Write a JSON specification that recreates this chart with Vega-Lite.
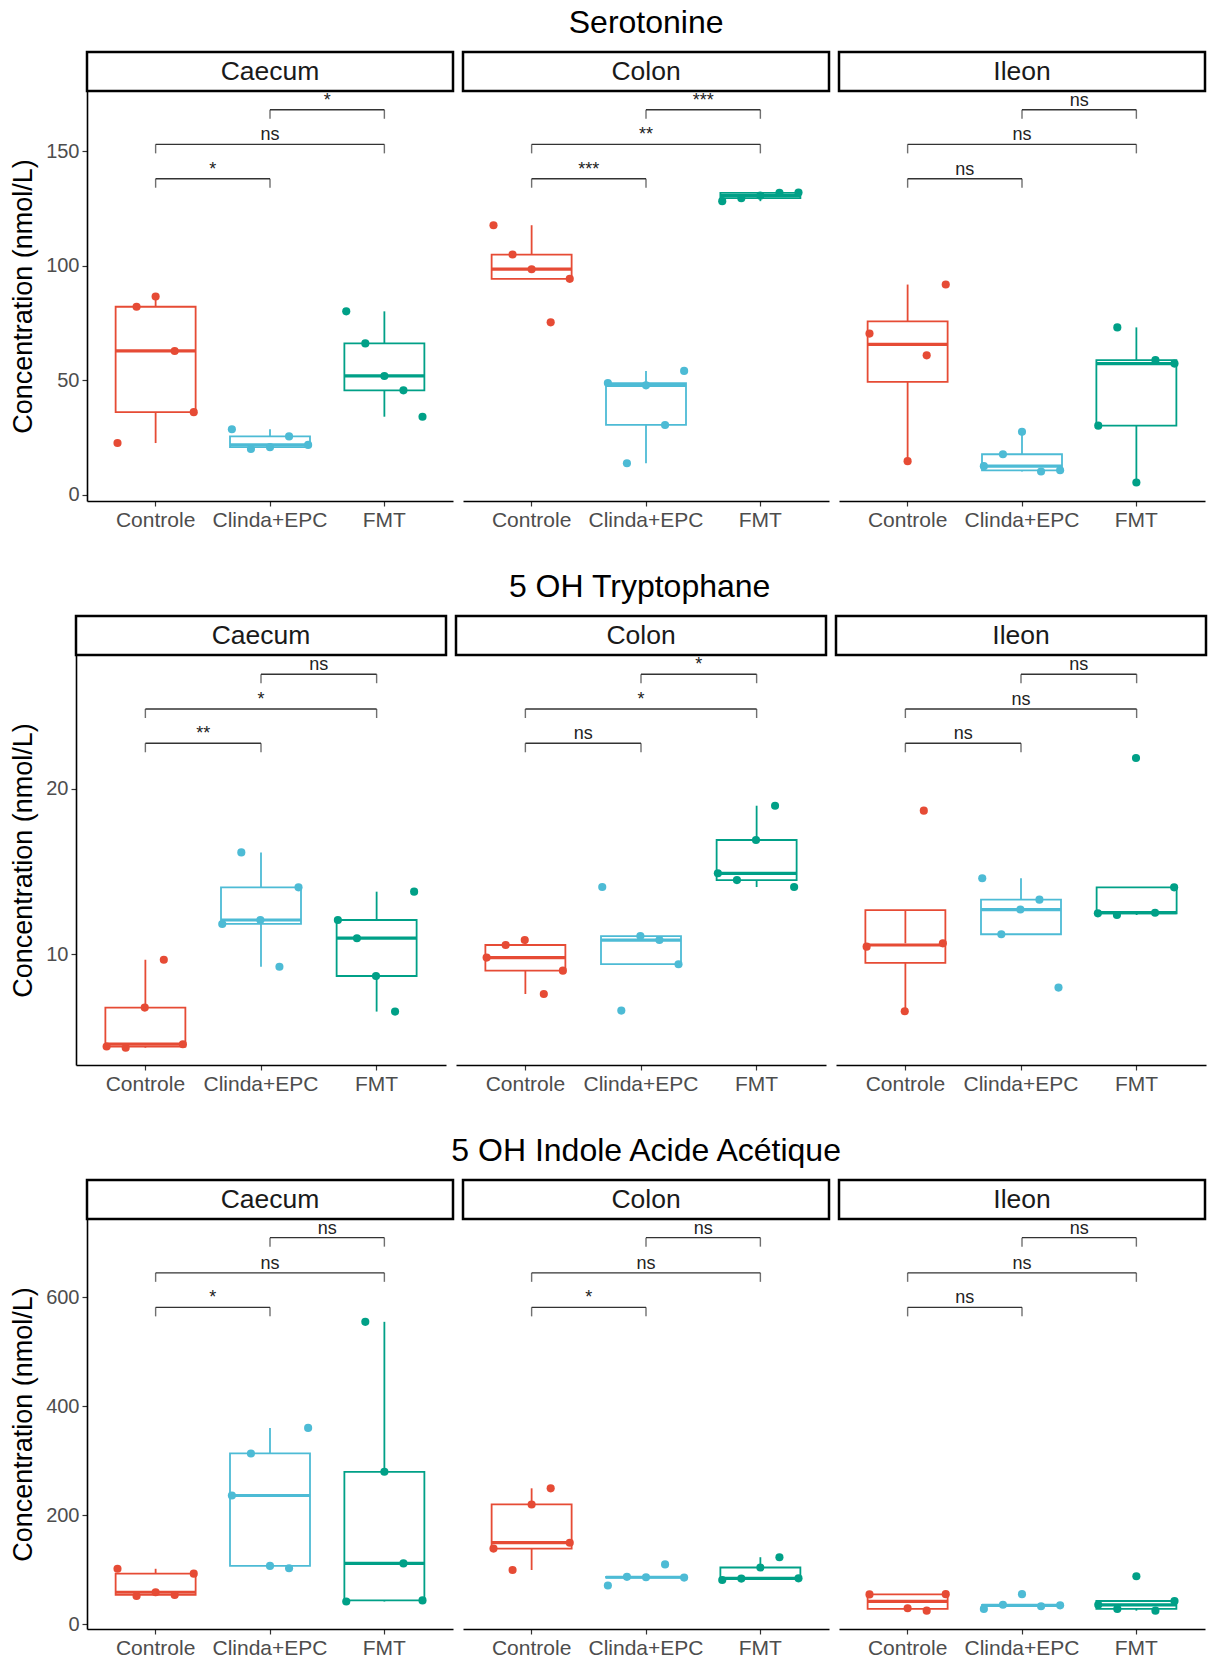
{
"$schema": "https://vega.github.io/schema/vega-lite/v6.json",
"padding": {"left": 2, "top": 6, "right": 2, "bottom": 2},
"config": {
  "font": "Liberation Sans",
  "view": {"stroke": null},
  "axis": {"labelFont": "Liberation Sans", "labelFontSize": 20, "labelColor": "#4d4d4d", "titleFont": "Liberation Sans", "titleFontSize": 27, "titleFontWeight": "normal", "titleColor": "#000", "domainColor": "#000", "domainWidth": 1.6, "tickColor": "#333", "tickWidth": 1.2, "tickSize": 5, "labelPadding": 3, "titlePadding": 8, "grid": false},
  "axisX": {"labelFontSize": 21},
  "title": {"font": "Liberation Sans", "fontSize": 32, "fontWeight": "normal", "color": "#000", "anchor": "middle", "offset": 11}
},
"datasets": {
  "regions": [{"region": "Caecum"}, {"region": "Colon"}, {"region": "Ileon"}],
  "pts": [
    {"m":"SER","region":"Caecum","group":"Controle","rep":1,"v":22.6},
    {"m":"SER","region":"Caecum","group":"Controle","rep":2,"v":82.1},
    {"m":"SER","region":"Caecum","group":"Controle","rep":3,"v":86.6},
    {"m":"SER","region":"Caecum","group":"Controle","rep":4,"v":62.8},
    {"m":"SER","region":"Caecum","group":"Controle","rep":5,"v":36.1},
    {"m":"SER","region":"Caecum","group":"Clinda+EPC","rep":1,"v":28.6},
    {"m":"SER","region":"Caecum","group":"Clinda+EPC","rep":2,"v":20.0},
    {"m":"SER","region":"Caecum","group":"Clinda+EPC","rep":3,"v":20.8},
    {"m":"SER","region":"Caecum","group":"Clinda+EPC","rep":4,"v":25.5},
    {"m":"SER","region":"Caecum","group":"Clinda+EPC","rep":5,"v":21.8},
    {"m":"SER","region":"Caecum","group":"FMT","rep":1,"v":80.1},
    {"m":"SER","region":"Caecum","group":"FMT","rep":2,"v":66.1},
    {"m":"SER","region":"Caecum","group":"FMT","rep":3,"v":51.9},
    {"m":"SER","region":"Caecum","group":"FMT","rep":4,"v":45.6},
    {"m":"SER","region":"Caecum","group":"FMT","rep":5,"v":34.1},
    {"m":"SER","region":"Colon","group":"Controle","rep":1,"v":117.7},
    {"m":"SER","region":"Colon","group":"Controle","rep":2,"v":104.9},
    {"m":"SER","region":"Colon","group":"Controle","rep":3,"v":98.5},
    {"m":"SER","region":"Colon","group":"Controle","rep":4,"v":75.3},
    {"m":"SER","region":"Colon","group":"Controle","rep":5,"v":94.3},
    {"m":"SER","region":"Colon","group":"Clinda+EPC","rep":1,"v":48.8},
    {"m":"SER","region":"Colon","group":"Clinda+EPC","rep":2,"v":13.8},
    {"m":"SER","region":"Colon","group":"Clinda+EPC","rep":3,"v":47.8},
    {"m":"SER","region":"Colon","group":"Clinda+EPC","rep":4,"v":30.5},
    {"m":"SER","region":"Colon","group":"Clinda+EPC","rep":5,"v":54.1},
    {"m":"SER","region":"Colon","group":"FMT","rep":1,"v":128.2},
    {"m":"SER","region":"Colon","group":"FMT","rep":2,"v":129.5},
    {"m":"SER","region":"Colon","group":"FMT","rep":3,"v":130.6},
    {"m":"SER","region":"Colon","group":"FMT","rep":4,"v":131.8},
    {"m":"SER","region":"Colon","group":"FMT","rep":5,"v":132.0},
    {"m":"SER","region":"Ileon","group":"Controle","rep":1,"v":70.4},
    {"m":"SER","region":"Ileon","group":"Controle","rep":3,"v":14.7},
    {"m":"SER","region":"Ileon","group":"Controle","rep":4,"v":60.9},
    {"m":"SER","region":"Ileon","group":"Controle","rep":5,"v":91.8},
    {"m":"SER","region":"Ileon","group":"Clinda+EPC","rep":1,"v":12.5},
    {"m":"SER","region":"Ileon","group":"Clinda+EPC","rep":2,"v":17.7},
    {"m":"SER","region":"Ileon","group":"Clinda+EPC","rep":3,"v":27.5},
    {"m":"SER","region":"Ileon","group":"Clinda+EPC","rep":4,"v":10.2},
    {"m":"SER","region":"Ileon","group":"Clinda+EPC","rep":5,"v":10.7},
    {"m":"SER","region":"Ileon","group":"FMT","rep":1,"v":30.2},
    {"m":"SER","region":"Ileon","group":"FMT","rep":2,"v":73.1},
    {"m":"SER","region":"Ileon","group":"FMT","rep":3,"v":5.4},
    {"m":"SER","region":"Ileon","group":"FMT","rep":4,"v":58.8},
    {"m":"SER","region":"Ileon","group":"FMT","rep":5,"v":57.3},
    {"m":"TRP","region":"Caecum","group":"Controle","rep":1,"v":4.43},
    {"m":"TRP","region":"Caecum","group":"Controle","rep":2,"v":4.36},
    {"m":"TRP","region":"Caecum","group":"Controle","rep":3,"v":6.78},
    {"m":"TRP","region":"Caecum","group":"Controle","rep":4,"v":9.67},
    {"m":"TRP","region":"Caecum","group":"Controle","rep":5,"v":4.57},
    {"m":"TRP","region":"Caecum","group":"Clinda+EPC","rep":1,"v":11.83},
    {"m":"TRP","region":"Caecum","group":"Clinda+EPC","rep":2,"v":16.15},
    {"m":"TRP","region":"Caecum","group":"Clinda+EPC","rep":3,"v":12.07},
    {"m":"TRP","region":"Caecum","group":"Clinda+EPC","rep":4,"v":9.25},
    {"m":"TRP","region":"Caecum","group":"Clinda+EPC","rep":5,"v":14.04},
    {"m":"TRP","region":"Caecum","group":"FMT","rep":1,"v":12.07},
    {"m":"TRP","region":"Caecum","group":"FMT","rep":2,"v":10.97},
    {"m":"TRP","region":"Caecum","group":"FMT","rep":3,"v":8.69},
    {"m":"TRP","region":"Caecum","group":"FMT","rep":4,"v":6.54},
    {"m":"TRP","region":"Caecum","group":"FMT","rep":5,"v":13.78},
    {"m":"TRP","region":"Colon","group":"Controle","rep":1,"v":9.80},
    {"m":"TRP","region":"Colon","group":"Controle","rep":2,"v":10.56},
    {"m":"TRP","region":"Colon","group":"Controle","rep":3,"v":10.86},
    {"m":"TRP","region":"Colon","group":"Controle","rep":4,"v":7.60},
    {"m":"TRP","region":"Colon","group":"Controle","rep":5,"v":9.01},
    {"m":"TRP","region":"Colon","group":"Clinda+EPC","rep":1,"v":14.06},
    {"m":"TRP","region":"Colon","group":"Clinda+EPC","rep":2,"v":6.60},
    {"m":"TRP","region":"Colon","group":"Clinda+EPC","rep":3,"v":11.10},
    {"m":"TRP","region":"Colon","group":"Clinda+EPC","rep":4,"v":10.86},
    {"m":"TRP","region":"Colon","group":"Clinda+EPC","rep":5,"v":9.40},
    {"m":"TRP","region":"Colon","group":"FMT","rep":1,"v":14.89},
    {"m":"TRP","region":"Colon","group":"FMT","rep":2,"v":14.48},
    {"m":"TRP","region":"Colon","group":"FMT","rep":3,"v":16.9},
    {"m":"TRP","region":"Colon","group":"FMT","rep":4,"v":18.97},
    {"m":"TRP","region":"Colon","group":"FMT","rep":5,"v":14.06},
    {"m":"TRP","region":"Ileon","group":"Controle","rep":1,"v":10.46},
    {"m":"TRP","region":"Ileon","group":"Controle","rep":3,"v":6.56},
    {"m":"TRP","region":"Ileon","group":"Controle","rep":4,"v":18.67},
    {"m":"TRP","region":"Ileon","group":"Controle","rep":5,"v":10.66},
    {"m":"TRP","region":"Ileon","group":"Clinda+EPC","rep":1,"v":14.59},
    {"m":"TRP","region":"Ileon","group":"Clinda+EPC","rep":2,"v":11.21},
    {"m":"TRP","region":"Ileon","group":"Clinda+EPC","rep":3,"v":12.70},
    {"m":"TRP","region":"Ileon","group":"Clinda+EPC","rep":4,"v":13.30},
    {"m":"TRP","region":"Ileon","group":"Clinda+EPC","rep":5,"v":7.99},
    {"m":"TRP","region":"Ileon","group":"FMT","rep":1,"v":12.47},
    {"m":"TRP","region":"Ileon","group":"FMT","rep":2,"v":12.37},
    {"m":"TRP","region":"Ileon","group":"FMT","rep":3,"v":21.85},
    {"m":"TRP","region":"Ileon","group":"FMT","rep":4,"v":12.51},
    {"m":"TRP","region":"Ileon","group":"FMT","rep":5,"v":14.04},
    {"m":"IAA","region":"Caecum","group":"Controle","rep":1,"v":102},
    {"m":"IAA","region":"Caecum","group":"Controle","rep":2,"v":52},
    {"m":"IAA","region":"Caecum","group":"Controle","rep":3,"v":59},
    {"m":"IAA","region":"Caecum","group":"Controle","rep":4,"v":54},
    {"m":"IAA","region":"Caecum","group":"Controle","rep":5,"v":93},
    {"m":"IAA","region":"Caecum","group":"Clinda+EPC","rep":1,"v":236.3},
    {"m":"IAA","region":"Caecum","group":"Clinda+EPC","rep":2,"v":313.4},
    {"m":"IAA","region":"Caecum","group":"Clinda+EPC","rep":3,"v":107.3},
    {"m":"IAA","region":"Caecum","group":"Clinda+EPC","rep":4,"v":102.9},
    {"m":"IAA","region":"Caecum","group":"Clinda+EPC","rep":5,"v":360.2},
    {"m":"IAA","region":"Caecum","group":"FMT","rep":1,"v":42},
    {"m":"IAA","region":"Caecum","group":"FMT","rep":2,"v":554.7},
    {"m":"IAA","region":"Caecum","group":"FMT","rep":3,"v":279.8},
    {"m":"IAA","region":"Caecum","group":"FMT","rep":4,"v":111.8},
    {"m":"IAA","region":"Caecum","group":"FMT","rep":5,"v":44},
    {"m":"IAA","region":"Colon","group":"Controle","rep":1,"v":139},
    {"m":"IAA","region":"Colon","group":"Controle","rep":2,"v":99.7},
    {"m":"IAA","region":"Colon","group":"Controle","rep":3,"v":219.9},
    {"m":"IAA","region":"Colon","group":"Controle","rep":4,"v":249.5},
    {"m":"IAA","region":"Colon","group":"Controle","rep":5,"v":149.8},
    {"m":"IAA","region":"Colon","group":"Clinda+EPC","rep":1,"v":71.3},
    {"m":"IAA","region":"Colon","group":"Clinda+EPC","rep":2,"v":87.2},
    {"m":"IAA","region":"Colon","group":"Clinda+EPC","rep":3,"v":86.5},
    {"m":"IAA","region":"Colon","group":"Clinda+EPC","rep":4,"v":110},
    {"m":"IAA","region":"Colon","group":"Clinda+EPC","rep":5,"v":85.8},
    {"m":"IAA","region":"Colon","group":"FMT","rep":1,"v":81.5},
    {"m":"IAA","region":"Colon","group":"FMT","rep":2,"v":84},
    {"m":"IAA","region":"Colon","group":"FMT","rep":3,"v":104.3},
    {"m":"IAA","region":"Colon","group":"FMT","rep":4,"v":123.2},
    {"m":"IAA","region":"Colon","group":"FMT","rep":5,"v":84.5},
    {"m":"IAA","region":"Ileon","group":"Controle","rep":1,"v":55},
    {"m":"IAA","region":"Ileon","group":"Controle","rep":3,"v":29.6},
    {"m":"IAA","region":"Ileon","group":"Controle","rep":4,"v":25.2},
    {"m":"IAA","region":"Ileon","group":"Controle","rep":5,"v":55.5},
    {"m":"IAA","region":"Ileon","group":"Clinda+EPC","rep":1,"v":28.4},
    {"m":"IAA","region":"Ileon","group":"Clinda+EPC","rep":2,"v":36},
    {"m":"IAA","region":"Ileon","group":"Clinda+EPC","rep":3,"v":55.5},
    {"m":"IAA","region":"Ileon","group":"Clinda+EPC","rep":4,"v":33.4},
    {"m":"IAA","region":"Ileon","group":"Clinda+EPC","rep":5,"v":35},
    {"m":"IAA","region":"Ileon","group":"FMT","rep":1,"v":36},
    {"m":"IAA","region":"Ileon","group":"FMT","rep":2,"v":28.4},
    {"m":"IAA","region":"Ileon","group":"FMT","rep":3,"v":88.3},
    {"m":"IAA","region":"Ileon","group":"FMT","rep":4,"v":25.2},
    {"m":"IAA","region":"Ileon","group":"FMT","rep":5,"v":42.9}
  ],
  "br": [
    {"m":"SER","region":"Caecum","group":"Controle","g2":"Clinda+EPC","v":138.0,"label":"*"},
    {"m":"SER","region":"Caecum","group":"Controle","g2":"FMT","v":153.0,"label":"ns"},
    {"m":"SER","region":"Caecum","group":"Clinda+EPC","g2":"FMT","v":168.1,"label":"*"},
    {"m":"SER","region":"Colon","group":"Controle","g2":"Clinda+EPC","v":138.0,"label":"***"},
    {"m":"SER","region":"Colon","group":"Controle","g2":"FMT","v":153.0,"label":"**"},
    {"m":"SER","region":"Colon","group":"Clinda+EPC","g2":"FMT","v":168.1,"label":"***"},
    {"m":"SER","region":"Ileon","group":"Controle","g2":"Clinda+EPC","v":138.0,"label":"ns"},
    {"m":"SER","region":"Ileon","group":"Controle","g2":"FMT","v":153.0,"label":"ns"},
    {"m":"SER","region":"Ileon","group":"Clinda+EPC","g2":"FMT","v":168.1,"label":"ns"},
    {"m":"TRP","region":"Caecum","group":"Controle","g2":"Clinda+EPC","v":22.74,"label":"**"},
    {"m":"TRP","region":"Caecum","group":"Controle","g2":"FMT","v":24.81,"label":"*"},
    {"m":"TRP","region":"Caecum","group":"Clinda+EPC","g2":"FMT","v":26.91,"label":"ns"},
    {"m":"TRP","region":"Colon","group":"Controle","g2":"Clinda+EPC","v":22.74,"label":"ns"},
    {"m":"TRP","region":"Colon","group":"Controle","g2":"FMT","v":24.81,"label":"*"},
    {"m":"TRP","region":"Colon","group":"Clinda+EPC","g2":"FMT","v":26.91,"label":"*"},
    {"m":"TRP","region":"Ileon","group":"Controle","g2":"Clinda+EPC","v":22.74,"label":"ns"},
    {"m":"TRP","region":"Ileon","group":"Controle","g2":"FMT","v":24.81,"label":"ns"},
    {"m":"TRP","region":"Ileon","group":"Clinda+EPC","g2":"FMT","v":26.91,"label":"ns"},
    {"m":"IAA","region":"Caecum","group":"Controle","g2":"Clinda+EPC","v":581.2,"label":"*"},
    {"m":"IAA","region":"Caecum","group":"Controle","g2":"FMT","v":644.5,"label":"ns"},
    {"m":"IAA","region":"Caecum","group":"Clinda+EPC","g2":"FMT","v":709.0,"label":"ns"},
    {"m":"IAA","region":"Colon","group":"Controle","g2":"Clinda+EPC","v":581.2,"label":"*"},
    {"m":"IAA","region":"Colon","group":"Controle","g2":"FMT","v":644.5,"label":"ns"},
    {"m":"IAA","region":"Colon","group":"Clinda+EPC","g2":"FMT","v":709.0,"label":"ns"},
    {"m":"IAA","region":"Ileon","group":"Controle","g2":"Clinda+EPC","v":581.2,"label":"ns"},
    {"m":"IAA","region":"Ileon","group":"Controle","g2":"FMT","v":644.5,"label":"ns"},
    {"m":"IAA","region":"Ileon","group":"Clinda+EPC","g2":"FMT","v":709.0,"label":"ns"}
  ]
},
"spacing": 40,
"vconcat": [
{
 "title": {"text": "Serotonine", "dx": 42},
 "spacing": 6,
 "hconcat": [
  {"width": 1, "height": 1, "data": {"values": []}, "mark": "point"},
  {"bounds": "flush", "spacing": 0, "vconcat": [
    {"width": 366, "height": 39, "data": {"name": "regions"}, "transform": [{"filter": "datum.region=='Caecum'"}], "view": {"stroke": "#000", "strokeWidth": 2.5, "fill": "#fff"}, "mark": {"type": "text", "fontSize": 26.5, "color": "#1a1a1a"}, "encoding": {"text": {"field": "region", "type": "nominal"}}},
    {"width": 366, "height": 410,
     "encoding": {
       "x": {"field": "group", "type": "nominal", "title": null, "scale": {"domain": ["Controle","Clinda+EPC","FMT"], "paddingInner": 0, "paddingOuter": 0.1}, "axis": {"labelAngle": 0}},
       "y": {"field": "v", "type": "quantitative", "title": "Concentration (nmol/L)", "scale": {"domain": [-2.7, 176.3], "nice": false, "zero": false}, "axis": {"values": [0, 50, 100, 150]}}},
     "layer": [
       {"data": {"name": "pts"}, "transform": [{"filter": "datum.m=='SER' && datum.region=='Caecum'"}], "mark": {"type": "boxplot", "extent": 1.5, "size": 80, "outliers": false, "box": {"filled": false, "strokeWidth": 1.8}, "median": {"thickness": 3.2, "opacity": 1, "color": {"expr": "datum.group=='Controle' ? '#E64B35' : datum.group=='FMT' ? '#00A087' : '#4DBBD5'"}}, "rule": {"strokeWidth": 1.8, "color": {"expr": "datum.group=='Controle' ? '#E64B35' : datum.group=='FMT' ? '#00A087' : '#4DBBD5'"}}}, "encoding": {"color": {"field": "group", "type": "nominal", "scale": {"domain": ["Controle","Clinda+EPC","FMT"], "range": ["#E64B35","#4DBBD5","#00A087"]}, "legend": null}}},
       {"data": {"name": "pts"}, "transform": [{"filter": "datum.m=='SER' && datum.region=='Caecum'"}], "mark": {"type": "circle", "size": 66, "opacity": 1}, "encoding": {"color": {"field": "group", "type": "nominal", "legend": null}, "xOffset": {"field": "rep", "type": "ordinal", "scale": {"type": "point", "padding": 4.35, "domain": [1,2,3,4,5]}}}},
       {"data": {"name": "br"}, "transform": [{"filter": "datum.m=='SER' && datum.region=='Caecum'"}], "mark": {"type": "rule", "color": "#333", "strokeWidth": 1.4}, "encoding": {"x2": {"field": "g2"}}},
       {"data": {"name": "br"}, "transform": [{"filter": "datum.m=='SER' && datum.region=='Caecum'"}, {"fold": ["group", "g2"], "as": ["end", "gx"]}], "mark": {"type": "tick", "orient": "vertical", "size": 9, "thickness": 1.4, "color": "#333", "yOffset": 4.5}, "encoding": {"x": {"field": "gx", "type": "nominal", "title": null}}},
       {"data": {"name": "br"}, "transform": [{"filter": "datum.m=='SER' && datum.region=='Caecum' && !(datum.group=='Controle' && datum.g2=='FMT')"}], "mark": {"type": "text", "fontSize": 18, "color": "#222", "baseline": "alphabetic", "dy": -4}, "encoding": {"x": {"field": "group", "type": "nominal", "bandPosition": 1, "title": null}, "text": {"field": "label"}}},
       {"data": {"name": "br"}, "transform": [{"filter": "datum.m=='SER' && datum.region=='Caecum' && datum.group=='Controle' && datum.g2=='FMT'"}], "mark": {"type": "text", "fontSize": 18, "color": "#222", "baseline": "alphabetic", "dy": -4}, "encoding": {"x": {"field": "group", "type": "nominal", "bandPosition": 1.5, "title": null}, "text": {"field": "label"}}}
     ]}
  ]},
  {"bounds": "flush", "spacing": 0, "vconcat": [
    {"width": 366, "height": 39, "data": {"name": "regions"}, "transform": [{"filter": "datum.region=='Colon'"}], "view": {"stroke": "#000", "strokeWidth": 2.5, "fill": "#fff"}, "mark": {"type": "text", "fontSize": 26.5, "color": "#1a1a1a"}, "encoding": {"text": {"field": "region", "type": "nominal"}}},
    {"width": 366, "height": 410,
     "encoding": {
       "x": {"field": "group", "type": "nominal", "title": null, "scale": {"domain": ["Controle","Clinda+EPC","FMT"], "paddingInner": 0, "paddingOuter": 0.1}, "axis": {"labelAngle": 0}},
       "y": {"field": "v", "type": "quantitative", "title": null, "scale": {"domain": [-2.7, 176.3], "nice": false, "zero": false}, "axis": null}},
     "layer": [
       {"data": {"name": "pts"}, "transform": [{"filter": "datum.m=='SER' && datum.region=='Colon'"}], "mark": {"type": "boxplot", "extent": 1.5, "size": 80, "outliers": false, "box": {"filled": false, "strokeWidth": 1.8}, "median": {"thickness": 3.2, "opacity": 1, "color": {"expr": "datum.group=='Controle' ? '#E64B35' : datum.group=='FMT' ? '#00A087' : '#4DBBD5'"}}, "rule": {"strokeWidth": 1.8, "color": {"expr": "datum.group=='Controle' ? '#E64B35' : datum.group=='FMT' ? '#00A087' : '#4DBBD5'"}}}, "encoding": {"color": {"field": "group", "type": "nominal", "scale": {"domain": ["Controle","Clinda+EPC","FMT"], "range": ["#E64B35","#4DBBD5","#00A087"]}, "legend": null}}},
       {"data": {"name": "pts"}, "transform": [{"filter": "datum.m=='SER' && datum.region=='Colon'"}], "mark": {"type": "circle", "size": 66, "opacity": 1}, "encoding": {"color": {"field": "group", "type": "nominal", "legend": null}, "xOffset": {"field": "rep", "type": "ordinal", "scale": {"type": "point", "padding": 4.35, "domain": [1,2,3,4,5]}}}},
       {"data": {"name": "br"}, "transform": [{"filter": "datum.m=='SER' && datum.region=='Colon'"}], "mark": {"type": "rule", "color": "#333", "strokeWidth": 1.4}, "encoding": {"x2": {"field": "g2"}}},
       {"data": {"name": "br"}, "transform": [{"filter": "datum.m=='SER' && datum.region=='Colon'"}, {"fold": ["group", "g2"], "as": ["end", "gx"]}], "mark": {"type": "tick", "orient": "vertical", "size": 9, "thickness": 1.4, "color": "#333", "yOffset": 4.5}, "encoding": {"x": {"field": "gx", "type": "nominal", "title": null}}},
       {"data": {"name": "br"}, "transform": [{"filter": "datum.m=='SER' && datum.region=='Colon' && !(datum.group=='Controle' && datum.g2=='FMT')"}], "mark": {"type": "text", "fontSize": 18, "color": "#222", "baseline": "alphabetic", "dy": -4}, "encoding": {"x": {"field": "group", "type": "nominal", "bandPosition": 1, "title": null}, "text": {"field": "label"}}},
       {"data": {"name": "br"}, "transform": [{"filter": "datum.m=='SER' && datum.region=='Colon' && datum.group=='Controle' && datum.g2=='FMT'"}], "mark": {"type": "text", "fontSize": 18, "color": "#222", "baseline": "alphabetic", "dy": -4}, "encoding": {"x": {"field": "group", "type": "nominal", "bandPosition": 1.5, "title": null}, "text": {"field": "label"}}}
     ]}
  ]},
  {"bounds": "flush", "spacing": 0, "vconcat": [
    {"width": 366, "height": 39, "data": {"name": "regions"}, "transform": [{"filter": "datum.region=='Ileon'"}], "view": {"stroke": "#000", "strokeWidth": 2.5, "fill": "#fff"}, "mark": {"type": "text", "fontSize": 26.5, "color": "#1a1a1a"}, "encoding": {"text": {"field": "region", "type": "nominal"}}},
    {"width": 366, "height": 410,
     "encoding": {
       "x": {"field": "group", "type": "nominal", "title": null, "scale": {"domain": ["Controle","Clinda+EPC","FMT"], "paddingInner": 0, "paddingOuter": 0.1}, "axis": {"labelAngle": 0}},
       "y": {"field": "v", "type": "quantitative", "title": null, "scale": {"domain": [-2.7, 176.3], "nice": false, "zero": false}, "axis": null}},
     "layer": [
       {"data": {"name": "pts"}, "transform": [{"filter": "datum.m=='SER' && datum.region=='Ileon'"}], "mark": {"type": "boxplot", "extent": 1.5, "size": 80, "outliers": false, "box": {"filled": false, "strokeWidth": 1.8}, "median": {"thickness": 3.2, "opacity": 1, "color": {"expr": "datum.group=='Controle' ? '#E64B35' : datum.group=='FMT' ? '#00A087' : '#4DBBD5'"}}, "rule": {"strokeWidth": 1.8, "color": {"expr": "datum.group=='Controle' ? '#E64B35' : datum.group=='FMT' ? '#00A087' : '#4DBBD5'"}}}, "encoding": {"color": {"field": "group", "type": "nominal", "scale": {"domain": ["Controle","Clinda+EPC","FMT"], "range": ["#E64B35","#4DBBD5","#00A087"]}, "legend": null}}},
       {"data": {"name": "pts"}, "transform": [{"filter": "datum.m=='SER' && datum.region=='Ileon'"}], "mark": {"type": "circle", "size": 66, "opacity": 1}, "encoding": {"color": {"field": "group", "type": "nominal", "legend": null}, "xOffset": {"field": "rep", "type": "ordinal", "scale": {"type": "point", "padding": 4.35, "domain": [1,2,3,4,5]}}}},
       {"data": {"name": "br"}, "transform": [{"filter": "datum.m=='SER' && datum.region=='Ileon'"}], "mark": {"type": "rule", "color": "#333", "strokeWidth": 1.4}, "encoding": {"x2": {"field": "g2"}}},
       {"data": {"name": "br"}, "transform": [{"filter": "datum.m=='SER' && datum.region=='Ileon'"}, {"fold": ["group", "g2"], "as": ["end", "gx"]}], "mark": {"type": "tick", "orient": "vertical", "size": 9, "thickness": 1.4, "color": "#333", "yOffset": 4.5}, "encoding": {"x": {"field": "gx", "type": "nominal", "title": null}}},
       {"data": {"name": "br"}, "transform": [{"filter": "datum.m=='SER' && datum.region=='Ileon' && !(datum.group=='Controle' && datum.g2=='FMT')"}], "mark": {"type": "text", "fontSize": 18, "color": "#222", "baseline": "alphabetic", "dy": -4}, "encoding": {"x": {"field": "group", "type": "nominal", "bandPosition": 1, "title": null}, "text": {"field": "label"}}},
       {"data": {"name": "br"}, "transform": [{"filter": "datum.m=='SER' && datum.region=='Ileon' && datum.group=='Controle' && datum.g2=='FMT'"}], "mark": {"type": "text", "fontSize": 18, "color": "#222", "baseline": "alphabetic", "dy": -4}, "encoding": {"x": {"field": "group", "type": "nominal", "bandPosition": 1.5, "title": null}, "text": {"field": "label"}}}
     ]}
  ]}
 ]
},
{
 "title": {"text": "5 OH Tryptophane", "dx": 35},
 "spacing": 6,
 "hconcat": [
  {"width": 1, "height": 1, "data": {"values": []}, "mark": "point"},
  {"bounds": "flush", "spacing": 0, "vconcat": [
    {"width": 370, "height": 39, "data": {"name": "regions"}, "transform": [{"filter": "datum.region=='Caecum'"}], "view": {"stroke": "#000", "strokeWidth": 2.5, "fill": "#fff"}, "mark": {"type": "text", "fontSize": 26.5, "color": "#1a1a1a"}, "encoding": {"text": {"field": "region", "type": "nominal"}}},
    {"width": 370, "height": 410,
     "encoding": {
       "x": {"field": "group", "type": "nominal", "title": null, "scale": {"domain": ["Controle","Clinda+EPC","FMT"], "paddingInner": 0, "paddingOuter": 0.1}, "axis": {"labelAngle": 0}},
       "y": {"field": "v", "type": "quantitative", "title": "Concentration (nmol/L)", "scale": {"domain": [3.315, 28.07], "nice": false, "zero": false}, "axis": {"values": [10, 20]}}},
     "layer": [
       {"data": {"name": "pts"}, "transform": [{"filter": "datum.m=='TRP' && datum.region=='Caecum'"}], "mark": {"type": "boxplot", "extent": 1.5, "size": 80, "outliers": false, "box": {"filled": false, "strokeWidth": 1.8}, "median": {"thickness": 3.2, "opacity": 1, "color": {"expr": "datum.group=='Controle' ? '#E64B35' : datum.group=='FMT' ? '#00A087' : '#4DBBD5'"}}, "rule": {"strokeWidth": 1.8, "color": {"expr": "datum.group=='Controle' ? '#E64B35' : datum.group=='FMT' ? '#00A087' : '#4DBBD5'"}}}, "encoding": {"color": {"field": "group", "type": "nominal", "scale": {"domain": ["Controle","Clinda+EPC","FMT"], "range": ["#E64B35","#4DBBD5","#00A087"]}, "legend": null}}},
       {"data": {"name": "pts"}, "transform": [{"filter": "datum.m=='TRP' && datum.region=='Caecum'"}], "mark": {"type": "circle", "size": 66, "opacity": 1}, "encoding": {"color": {"field": "group", "type": "nominal", "legend": null}, "xOffset": {"field": "rep", "type": "ordinal", "scale": {"type": "point", "padding": 4.35, "domain": [1,2,3,4,5]}}}},
       {"data": {"name": "br"}, "transform": [{"filter": "datum.m=='TRP' && datum.region=='Caecum'"}], "mark": {"type": "rule", "color": "#333", "strokeWidth": 1.4}, "encoding": {"x2": {"field": "g2"}}},
       {"data": {"name": "br"}, "transform": [{"filter": "datum.m=='TRP' && datum.region=='Caecum'"}, {"fold": ["group", "g2"], "as": ["end", "gx"]}], "mark": {"type": "tick", "orient": "vertical", "size": 9, "thickness": 1.4, "color": "#333", "yOffset": 4.5}, "encoding": {"x": {"field": "gx", "type": "nominal", "title": null}}},
       {"data": {"name": "br"}, "transform": [{"filter": "datum.m=='TRP' && datum.region=='Caecum' && !(datum.group=='Controle' && datum.g2=='FMT')"}], "mark": {"type": "text", "fontSize": 18, "color": "#222", "baseline": "alphabetic", "dy": -4}, "encoding": {"x": {"field": "group", "type": "nominal", "bandPosition": 1, "title": null}, "text": {"field": "label"}}},
       {"data": {"name": "br"}, "transform": [{"filter": "datum.m=='TRP' && datum.region=='Caecum' && datum.group=='Controle' && datum.g2=='FMT'"}], "mark": {"type": "text", "fontSize": 18, "color": "#222", "baseline": "alphabetic", "dy": -4}, "encoding": {"x": {"field": "group", "type": "nominal", "bandPosition": 1.5, "title": null}, "text": {"field": "label"}}}
     ]}
  ]},
  {"bounds": "flush", "spacing": 0, "vconcat": [
    {"width": 370, "height": 39, "data": {"name": "regions"}, "transform": [{"filter": "datum.region=='Colon'"}], "view": {"stroke": "#000", "strokeWidth": 2.5, "fill": "#fff"}, "mark": {"type": "text", "fontSize": 26.5, "color": "#1a1a1a"}, "encoding": {"text": {"field": "region", "type": "nominal"}}},
    {"width": 370, "height": 410,
     "encoding": {
       "x": {"field": "group", "type": "nominal", "title": null, "scale": {"domain": ["Controle","Clinda+EPC","FMT"], "paddingInner": 0, "paddingOuter": 0.1}, "axis": {"labelAngle": 0}},
       "y": {"field": "v", "type": "quantitative", "title": null, "scale": {"domain": [3.315, 28.07], "nice": false, "zero": false}, "axis": null}},
     "layer": [
       {"data": {"name": "pts"}, "transform": [{"filter": "datum.m=='TRP' && datum.region=='Colon'"}], "mark": {"type": "boxplot", "extent": 1.5, "size": 80, "outliers": false, "box": {"filled": false, "strokeWidth": 1.8}, "median": {"thickness": 3.2, "opacity": 1, "color": {"expr": "datum.group=='Controle' ? '#E64B35' : datum.group=='FMT' ? '#00A087' : '#4DBBD5'"}}, "rule": {"strokeWidth": 1.8, "color": {"expr": "datum.group=='Controle' ? '#E64B35' : datum.group=='FMT' ? '#00A087' : '#4DBBD5'"}}}, "encoding": {"color": {"field": "group", "type": "nominal", "scale": {"domain": ["Controle","Clinda+EPC","FMT"], "range": ["#E64B35","#4DBBD5","#00A087"]}, "legend": null}}},
       {"data": {"name": "pts"}, "transform": [{"filter": "datum.m=='TRP' && datum.region=='Colon'"}], "mark": {"type": "circle", "size": 66, "opacity": 1}, "encoding": {"color": {"field": "group", "type": "nominal", "legend": null}, "xOffset": {"field": "rep", "type": "ordinal", "scale": {"type": "point", "padding": 4.35, "domain": [1,2,3,4,5]}}}},
       {"data": {"name": "br"}, "transform": [{"filter": "datum.m=='TRP' && datum.region=='Colon'"}], "mark": {"type": "rule", "color": "#333", "strokeWidth": 1.4}, "encoding": {"x2": {"field": "g2"}}},
       {"data": {"name": "br"}, "transform": [{"filter": "datum.m=='TRP' && datum.region=='Colon'"}, {"fold": ["group", "g2"], "as": ["end", "gx"]}], "mark": {"type": "tick", "orient": "vertical", "size": 9, "thickness": 1.4, "color": "#333", "yOffset": 4.5}, "encoding": {"x": {"field": "gx", "type": "nominal", "title": null}}},
       {"data": {"name": "br"}, "transform": [{"filter": "datum.m=='TRP' && datum.region=='Colon' && !(datum.group=='Controle' && datum.g2=='FMT')"}], "mark": {"type": "text", "fontSize": 18, "color": "#222", "baseline": "alphabetic", "dy": -4}, "encoding": {"x": {"field": "group", "type": "nominal", "bandPosition": 1, "title": null}, "text": {"field": "label"}}},
       {"data": {"name": "br"}, "transform": [{"filter": "datum.m=='TRP' && datum.region=='Colon' && datum.group=='Controle' && datum.g2=='FMT'"}], "mark": {"type": "text", "fontSize": 18, "color": "#222", "baseline": "alphabetic", "dy": -4}, "encoding": {"x": {"field": "group", "type": "nominal", "bandPosition": 1.5, "title": null}, "text": {"field": "label"}}}
     ]}
  ]},
  {"bounds": "flush", "spacing": 0, "vconcat": [
    {"width": 370, "height": 39, "data": {"name": "regions"}, "transform": [{"filter": "datum.region=='Ileon'"}], "view": {"stroke": "#000", "strokeWidth": 2.5, "fill": "#fff"}, "mark": {"type": "text", "fontSize": 26.5, "color": "#1a1a1a"}, "encoding": {"text": {"field": "region", "type": "nominal"}}},
    {"width": 370, "height": 410,
     "encoding": {
       "x": {"field": "group", "type": "nominal", "title": null, "scale": {"domain": ["Controle","Clinda+EPC","FMT"], "paddingInner": 0, "paddingOuter": 0.1}, "axis": {"labelAngle": 0}},
       "y": {"field": "v", "type": "quantitative", "title": null, "scale": {"domain": [3.315, 28.07], "nice": false, "zero": false}, "axis": null}},
     "layer": [
       {"data": {"name": "pts"}, "transform": [{"filter": "datum.m=='TRP' && datum.region=='Ileon'"}], "mark": {"type": "boxplot", "extent": 1.5, "size": 80, "outliers": false, "box": {"filled": false, "strokeWidth": 1.8}, "median": {"thickness": 3.2, "opacity": 1, "color": {"expr": "datum.group=='Controle' ? '#E64B35' : datum.group=='FMT' ? '#00A087' : '#4DBBD5'"}}, "rule": {"strokeWidth": 1.8, "color": {"expr": "datum.group=='Controle' ? '#E64B35' : datum.group=='FMT' ? '#00A087' : '#4DBBD5'"}}}, "encoding": {"color": {"field": "group", "type": "nominal", "scale": {"domain": ["Controle","Clinda+EPC","FMT"], "range": ["#E64B35","#4DBBD5","#00A087"]}, "legend": null}}},
       {"data": {"name": "pts"}, "transform": [{"filter": "datum.m=='TRP' && datum.region=='Ileon'"}], "mark": {"type": "circle", "size": 66, "opacity": 1}, "encoding": {"color": {"field": "group", "type": "nominal", "legend": null}, "xOffset": {"field": "rep", "type": "ordinal", "scale": {"type": "point", "padding": 4.35, "domain": [1,2,3,4,5]}}}},
       {"data": {"name": "br"}, "transform": [{"filter": "datum.m=='TRP' && datum.region=='Ileon'"}], "mark": {"type": "rule", "color": "#333", "strokeWidth": 1.4}, "encoding": {"x2": {"field": "g2"}}},
       {"data": {"name": "br"}, "transform": [{"filter": "datum.m=='TRP' && datum.region=='Ileon'"}, {"fold": ["group", "g2"], "as": ["end", "gx"]}], "mark": {"type": "tick", "orient": "vertical", "size": 9, "thickness": 1.4, "color": "#333", "yOffset": 4.5}, "encoding": {"x": {"field": "gx", "type": "nominal", "title": null}}},
       {"data": {"name": "br"}, "transform": [{"filter": "datum.m=='TRP' && datum.region=='Ileon' && !(datum.group=='Controle' && datum.g2=='FMT')"}], "mark": {"type": "text", "fontSize": 18, "color": "#222", "baseline": "alphabetic", "dy": -4}, "encoding": {"x": {"field": "group", "type": "nominal", "bandPosition": 1, "title": null}, "text": {"field": "label"}}},
       {"data": {"name": "br"}, "transform": [{"filter": "datum.m=='TRP' && datum.region=='Ileon' && datum.group=='Controle' && datum.g2=='FMT'"}], "mark": {"type": "text", "fontSize": 18, "color": "#222", "baseline": "alphabetic", "dy": -4}, "encoding": {"x": {"field": "group", "type": "nominal", "bandPosition": 1.5, "title": null}, "text": {"field": "label"}}}
     ]}
  ]}
 ]
},
{
 "title": {"text": "5 OH Indole Acide Acétique", "dx": 42},
 "spacing": 6,
 "hconcat": [
  {"width": 1, "height": 1, "data": {"values": []}, "mark": "point"},
  {"bounds": "flush", "spacing": 0, "vconcat": [
    {"width": 366, "height": 39, "data": {"name": "regions"}, "transform": [{"filter": "datum.region=='Caecum'"}], "view": {"stroke": "#000", "strokeWidth": 2.5, "fill": "#fff"}, "mark": {"type": "text", "fontSize": 26.5, "color": "#1a1a1a"}, "encoding": {"text": {"field": "region", "type": "nominal"}}},
    {"width": 366, "height": 410,
     "encoding": {
       "x": {"field": "group", "type": "nominal", "title": null, "scale": {"domain": ["Controle","Clinda+EPC","FMT"], "paddingInner": 0, "paddingOuter": 0.1}, "axis": {"labelAngle": 0}},
       "y": {"field": "v", "type": "quantitative", "title": "Concentration (nmol/L)", "scale": {"domain": [-8.4, 743.2], "nice": false, "zero": false}, "axis": {"values": [0, 200, 400, 600]}}},
     "layer": [
       {"data": {"name": "pts"}, "transform": [{"filter": "datum.m=='IAA' && datum.region=='Caecum'"}], "mark": {"type": "boxplot", "extent": 1.5, "size": 80, "outliers": false, "box": {"filled": false, "strokeWidth": 1.8}, "median": {"thickness": 3.2, "opacity": 1, "color": {"expr": "datum.group=='Controle' ? '#E64B35' : datum.group=='FMT' ? '#00A087' : '#4DBBD5'"}}, "rule": {"strokeWidth": 1.8, "color": {"expr": "datum.group=='Controle' ? '#E64B35' : datum.group=='FMT' ? '#00A087' : '#4DBBD5'"}}}, "encoding": {"color": {"field": "group", "type": "nominal", "scale": {"domain": ["Controle","Clinda+EPC","FMT"], "range": ["#E64B35","#4DBBD5","#00A087"]}, "legend": null}}},
       {"data": {"name": "pts"}, "transform": [{"filter": "datum.m=='IAA' && datum.region=='Caecum'"}], "mark": {"type": "circle", "size": 66, "opacity": 1}, "encoding": {"color": {"field": "group", "type": "nominal", "legend": null}, "xOffset": {"field": "rep", "type": "ordinal", "scale": {"type": "point", "padding": 4.35, "domain": [1,2,3,4,5]}}}},
       {"data": {"name": "br"}, "transform": [{"filter": "datum.m=='IAA' && datum.region=='Caecum'"}], "mark": {"type": "rule", "color": "#333", "strokeWidth": 1.4}, "encoding": {"x2": {"field": "g2"}}},
       {"data": {"name": "br"}, "transform": [{"filter": "datum.m=='IAA' && datum.region=='Caecum'"}, {"fold": ["group", "g2"], "as": ["end", "gx"]}], "mark": {"type": "tick", "orient": "vertical", "size": 9, "thickness": 1.4, "color": "#333", "yOffset": 4.5}, "encoding": {"x": {"field": "gx", "type": "nominal", "title": null}}},
       {"data": {"name": "br"}, "transform": [{"filter": "datum.m=='IAA' && datum.region=='Caecum' && !(datum.group=='Controle' && datum.g2=='FMT')"}], "mark": {"type": "text", "fontSize": 18, "color": "#222", "baseline": "alphabetic", "dy": -4}, "encoding": {"x": {"field": "group", "type": "nominal", "bandPosition": 1, "title": null}, "text": {"field": "label"}}},
       {"data": {"name": "br"}, "transform": [{"filter": "datum.m=='IAA' && datum.region=='Caecum' && datum.group=='Controle' && datum.g2=='FMT'"}], "mark": {"type": "text", "fontSize": 18, "color": "#222", "baseline": "alphabetic", "dy": -4}, "encoding": {"x": {"field": "group", "type": "nominal", "bandPosition": 1.5, "title": null}, "text": {"field": "label"}}}
     ]}
  ]},
  {"bounds": "flush", "spacing": 0, "vconcat": [
    {"width": 366, "height": 39, "data": {"name": "regions"}, "transform": [{"filter": "datum.region=='Colon'"}], "view": {"stroke": "#000", "strokeWidth": 2.5, "fill": "#fff"}, "mark": {"type": "text", "fontSize": 26.5, "color": "#1a1a1a"}, "encoding": {"text": {"field": "region", "type": "nominal"}}},
    {"width": 366, "height": 410,
     "encoding": {
       "x": {"field": "group", "type": "nominal", "title": null, "scale": {"domain": ["Controle","Clinda+EPC","FMT"], "paddingInner": 0, "paddingOuter": 0.1}, "axis": {"labelAngle": 0}},
       "y": {"field": "v", "type": "quantitative", "title": null, "scale": {"domain": [-8.4, 743.2], "nice": false, "zero": false}, "axis": null}},
     "layer": [
       {"data": {"name": "pts"}, "transform": [{"filter": "datum.m=='IAA' && datum.region=='Colon'"}], "mark": {"type": "boxplot", "extent": 1.5, "size": 80, "outliers": false, "box": {"filled": false, "strokeWidth": 1.8}, "median": {"thickness": 3.2, "opacity": 1, "color": {"expr": "datum.group=='Controle' ? '#E64B35' : datum.group=='FMT' ? '#00A087' : '#4DBBD5'"}}, "rule": {"strokeWidth": 1.8, "color": {"expr": "datum.group=='Controle' ? '#E64B35' : datum.group=='FMT' ? '#00A087' : '#4DBBD5'"}}}, "encoding": {"color": {"field": "group", "type": "nominal", "scale": {"domain": ["Controle","Clinda+EPC","FMT"], "range": ["#E64B35","#4DBBD5","#00A087"]}, "legend": null}}},
       {"data": {"name": "pts"}, "transform": [{"filter": "datum.m=='IAA' && datum.region=='Colon'"}], "mark": {"type": "circle", "size": 66, "opacity": 1}, "encoding": {"color": {"field": "group", "type": "nominal", "legend": null}, "xOffset": {"field": "rep", "type": "ordinal", "scale": {"type": "point", "padding": 4.35, "domain": [1,2,3,4,5]}}}},
       {"data": {"name": "br"}, "transform": [{"filter": "datum.m=='IAA' && datum.region=='Colon'"}], "mark": {"type": "rule", "color": "#333", "strokeWidth": 1.4}, "encoding": {"x2": {"field": "g2"}}},
       {"data": {"name": "br"}, "transform": [{"filter": "datum.m=='IAA' && datum.region=='Colon'"}, {"fold": ["group", "g2"], "as": ["end", "gx"]}], "mark": {"type": "tick", "orient": "vertical", "size": 9, "thickness": 1.4, "color": "#333", "yOffset": 4.5}, "encoding": {"x": {"field": "gx", "type": "nominal", "title": null}}},
       {"data": {"name": "br"}, "transform": [{"filter": "datum.m=='IAA' && datum.region=='Colon' && !(datum.group=='Controle' && datum.g2=='FMT')"}], "mark": {"type": "text", "fontSize": 18, "color": "#222", "baseline": "alphabetic", "dy": -4}, "encoding": {"x": {"field": "group", "type": "nominal", "bandPosition": 1, "title": null}, "text": {"field": "label"}}},
       {"data": {"name": "br"}, "transform": [{"filter": "datum.m=='IAA' && datum.region=='Colon' && datum.group=='Controle' && datum.g2=='FMT'"}], "mark": {"type": "text", "fontSize": 18, "color": "#222", "baseline": "alphabetic", "dy": -4}, "encoding": {"x": {"field": "group", "type": "nominal", "bandPosition": 1.5, "title": null}, "text": {"field": "label"}}}
     ]}
  ]},
  {"bounds": "flush", "spacing": 0, "vconcat": [
    {"width": 366, "height": 39, "data": {"name": "regions"}, "transform": [{"filter": "datum.region=='Ileon'"}], "view": {"stroke": "#000", "strokeWidth": 2.5, "fill": "#fff"}, "mark": {"type": "text", "fontSize": 26.5, "color": "#1a1a1a"}, "encoding": {"text": {"field": "region", "type": "nominal"}}},
    {"width": 366, "height": 410,
     "encoding": {
       "x": {"field": "group", "type": "nominal", "title": null, "scale": {"domain": ["Controle","Clinda+EPC","FMT"], "paddingInner": 0, "paddingOuter": 0.1}, "axis": {"labelAngle": 0}},
       "y": {"field": "v", "type": "quantitative", "title": null, "scale": {"domain": [-8.4, 743.2], "nice": false, "zero": false}, "axis": null}},
     "layer": [
       {"data": {"name": "pts"}, "transform": [{"filter": "datum.m=='IAA' && datum.region=='Ileon'"}], "mark": {"type": "boxplot", "extent": 1.5, "size": 80, "outliers": false, "box": {"filled": false, "strokeWidth": 1.8}, "median": {"thickness": 3.2, "opacity": 1, "color": {"expr": "datum.group=='Controle' ? '#E64B35' : datum.group=='FMT' ? '#00A087' : '#4DBBD5'"}}, "rule": {"strokeWidth": 1.8, "color": {"expr": "datum.group=='Controle' ? '#E64B35' : datum.group=='FMT' ? '#00A087' : '#4DBBD5'"}}}, "encoding": {"color": {"field": "group", "type": "nominal", "scale": {"domain": ["Controle","Clinda+EPC","FMT"], "range": ["#E64B35","#4DBBD5","#00A087"]}, "legend": null}}},
       {"data": {"name": "pts"}, "transform": [{"filter": "datum.m=='IAA' && datum.region=='Ileon'"}], "mark": {"type": "circle", "size": 66, "opacity": 1}, "encoding": {"color": {"field": "group", "type": "nominal", "legend": null}, "xOffset": {"field": "rep", "type": "ordinal", "scale": {"type": "point", "padding": 4.35, "domain": [1,2,3,4,5]}}}},
       {"data": {"name": "br"}, "transform": [{"filter": "datum.m=='IAA' && datum.region=='Ileon'"}], "mark": {"type": "rule", "color": "#333", "strokeWidth": 1.4}, "encoding": {"x2": {"field": "g2"}}},
       {"data": {"name": "br"}, "transform": [{"filter": "datum.m=='IAA' && datum.region=='Ileon'"}, {"fold": ["group", "g2"], "as": ["end", "gx"]}], "mark": {"type": "tick", "orient": "vertical", "size": 9, "thickness": 1.4, "color": "#333", "yOffset": 4.5}, "encoding": {"x": {"field": "gx", "type": "nominal", "title": null}}},
       {"data": {"name": "br"}, "transform": [{"filter": "datum.m=='IAA' && datum.region=='Ileon' && !(datum.group=='Controle' && datum.g2=='FMT')"}], "mark": {"type": "text", "fontSize": 18, "color": "#222", "baseline": "alphabetic", "dy": -4}, "encoding": {"x": {"field": "group", "type": "nominal", "bandPosition": 1, "title": null}, "text": {"field": "label"}}},
       {"data": {"name": "br"}, "transform": [{"filter": "datum.m=='IAA' && datum.region=='Ileon' && datum.group=='Controle' && datum.g2=='FMT'"}], "mark": {"type": "text", "fontSize": 18, "color": "#222", "baseline": "alphabetic", "dy": -4}, "encoding": {"x": {"field": "group", "type": "nominal", "bandPosition": 1.5, "title": null}, "text": {"field": "label"}}}
     ]}
  ]}
 ]
}
]
}
